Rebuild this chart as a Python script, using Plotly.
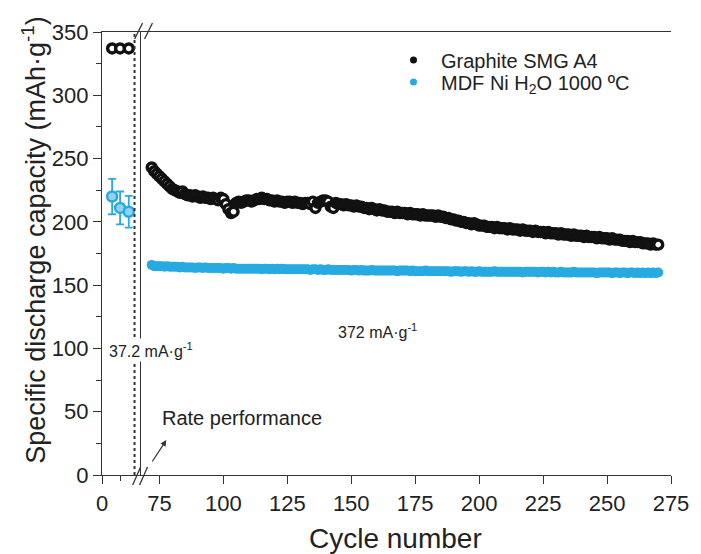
import plotly.graph_objects as go

# ---------------- data ----------------
rate_x = [7, 12.5, 18.5]
rate_graphite = [337, 337, 337]
rate_mdf = [220, 211, 208]
rate_mdf_err = [14, 13, 12.5]

cycles = list(range(72, 271))

graphite = [
    243, 240, 238, 236, 234, 232, 230, 228, 226, 225,
    224, 223, 224, 222, 221, 221, 220, 221, 220, 219,
    220, 219, 219, 218, 219, 218, 217, 219, 218, 214,
    210, 207, 208, 215, 216, 215, 216, 217, 217, 216,
    217, 218, 218, 219, 218, 218, 217, 217, 216, 217,
    216, 216, 215, 216, 216, 215, 216, 215, 215, 214,
    215, 215, 214, 216, 211, 215, 216, 217, 217, 216,
    212, 211, 215, 214, 214, 213, 214, 213, 213, 212,
    213, 212, 212, 211, 211, 210, 211, 210, 209, 210,
    209, 209, 208, 208, 208, 207, 208, 207, 207, 207,
    206, 207, 206, 206, 206, 205, 206, 205, 205, 205,
    205, 204, 205, 204, 204, 203, 203, 202, 202, 201,
    201, 200, 200, 199, 199, 198, 199, 198, 197, 197,
    197, 196, 196, 196, 195, 196, 195, 195, 195, 194,
    195, 194, 194, 194, 193, 194, 193, 193, 193, 192,
    193, 192, 192, 192, 191, 192, 191, 191, 191, 190,
    191, 190, 190, 190, 189, 190, 189, 189, 189, 188,
    189, 188, 188, 188, 187, 188, 187, 187, 187, 186,
    187, 186, 186, 186, 185, 185, 185, 184, 185, 184,
    184, 184, 183, 183, 183, 182, 183, 182, 182,
]

mdf = [
    166, 165, 165, 165, 165, 164.5, 165, 164.5, 164.5, 164.5,
    164.5, 164, 164.5, 164, 164, 164, 164, 163.5, 164, 164,
    163.5, 164, 163.5, 163.5, 163.5, 163.5, 163.5, 163.5, 163, 163.5,
    163.5, 163, 163.5, 163, 163, 163, 163, 163, 163, 163,
    163, 163, 163, 162.5, 163, 163, 162.5, 163, 162.5, 163,
    162.5, 163, 162.5, 162.5, 162.5, 162.5, 162.5, 162.5, 162.5, 162.5,
    162.5, 162.5, 162, 162.5, 162.5, 162, 162.5, 162, 162, 162.5,
    162, 162, 162, 162, 162, 162, 162, 162, 161.5, 162,
    162, 161.5, 162, 161.5, 161.5, 161.5, 162, 161.5, 161.5, 161.5,
    161.5, 161.5, 161.5, 161.5, 161.5, 161.5, 161, 161.5, 161.5, 161.5,
    161.5, 161, 161.5, 161, 161, 161, 161, 161.5, 161, 161,
    161, 161, 161, 161, 161, 161, 161, 160.5, 161, 161,
    161, 160.5, 161, 161, 160.5, 161, 160.5, 160.5, 161, 160.5,
    160.5, 160.5, 160.5, 160.5, 161, 160.5, 160.5, 160.5, 160.5, 160.5,
    160.5, 160.5, 160.5, 160.5, 160.5, 160, 160.5, 160.5, 160.5, 160.5,
    160.5, 160, 160.5, 160.5, 160, 160.5, 160, 160.5, 160, 160,
    160.5, 160, 160, 160, 160, 160.5, 160, 160, 160, 160,
    160, 160, 160, 160, 159.5, 160, 160, 160, 160, 160,
    159.5, 160, 160, 159.5, 160, 160, 159.5, 160, 160, 159.5,
    160, 159.5, 160, 159.5, 160, 159.5, 160, 159.5, 160,
]

y_ticks = [0, 50, 100, 150, 200, 250, 300, 350]
x_ticks_right = [75, 100, 125, 150, 175, 200, 225, 250, 275]

# ---------------- layout geometry ----------------
L, R, T, B = 102, 677, 32, 475
W, H = 701, 554
PW, PH = R - L, B - T
BREAK = 140


def px(xp):
    return (xp - L) / PW


def py(yp):
    return (B - yp) / PH


BLACK = "#111111"
BLUE = "#27aae1"
AX = "#333333"
FONT = "Liberation Sans, Arial, sans-serif"

fig = go.Figure()

marker_black = dict(symbol="circle", size=9, color="white",
                    line=dict(color=BLACK, width=3.4))

fig.add_trace(go.Scatter(
    x=cycles, y=graphite, mode="markers", xaxis="x2", yaxis="y",
    marker=marker_black, showlegend=False))
fig.add_trace(go.Scatter(
    x=cycles, y=mdf, mode="markers", xaxis="x2", yaxis="y",
    marker=dict(symbol="circle", size=10, color=BLUE, line=dict(width=0)),
    showlegend=False))

fig.add_trace(go.Scatter(
    x=rate_x, y=rate_graphite, mode="markers", xaxis="x", yaxis="y",
    marker=marker_black, showlegend=False))
fig.add_trace(go.Scatter(
    x=rate_x, y=rate_mdf, mode="markers", xaxis="x", yaxis="y",
    marker=dict(symbol="circle", size=10, color="#8fd3f0",
                line=dict(color=BLUE, width=2.5)),
    error_y=dict(type="data", array=rate_mdf_err, color=BLUE,
                 thickness=1.8, width=4),
    showlegend=False))

# legend entries (small ball markers as in the reference legend)
fig.add_trace(go.Scatter(
    x=[None], y=[None], mode="markers", xaxis="x2", yaxis="y",
    name="Graphite SMG A4", legend="legend",
    marker=dict(symbol="circle", size=7, color=BLACK)))
fig.add_trace(go.Scatter(
    x=[None], y=[None], mode="markers", xaxis="x2", yaxis="y",
    name="MDF Ni H<sub>2</sub>O 1000 ºC", legend="legend2",
    marker=dict(symbol="circle", size=7, color=BLUE)))

axis_common = dict(showline=True, linecolor=AX, linewidth=1.3, mirror=True,
                   ticks="outside", ticklen=8, tickwidth=1.3, tickcolor=AX,
                   showgrid=False, zeroline=False,
                   tickfont=dict(size=22, color="#222222", family=FONT))

d1 = px(BREAK)
x2_lo = 75 - (160 - BREAK) / ((677 - 160) / 200)

legend_common = dict(xanchor="left", yanchor="middle", itemwidth=45,
                     bgcolor="rgba(0,0,0,0)", font=dict(size=20, family=FONT))

fig.update_layout(
    width=W, height=H,
    margin=dict(l=L, r=W - R, t=T, b=H - B, pad=0),
    paper_bgcolor="white", plot_bgcolor="white",
    font=dict(family=FONT, color="#222222"),
    xaxis=dict(domain=[0, d1], range=[0, 26], tickvals=[0], ticktext=["0"],
               minor=dict(tickvals=[12.5], ticks="outside", ticklen=5,
                          tickcolor=AX, tickwidth=1.3),
               anchor="y", **axis_common),
    xaxis2=dict(domain=[d1, 1], range=[x2_lo, 275], tickvals=x_ticks_right,
                anchor="y", **axis_common),
    yaxis=dict(range=[0, 350], tickvals=y_ticks, anchor="x",
               minor=dict(dtick=25, tick0=0, ticks="outside", ticklen=5,
                          tickcolor=AX, tickwidth=1.3),
               **axis_common),
    legend=dict(x=px(389), y=py(60), **legend_common),
    legend2=dict(x=px(389), y=py(82), **legend_common),
)

# dotted separator line
fig.add_shape(type="line", xref="x", yref="y", x0=22.5, x1=22.5, y0=0, y1=350,
              line=dict(color=AX, width=2, dash="dot"))

# axis break marks
for (x0, y0, x1, y1) in [(133, 485, 141, 467), (140, 485, 148, 467),
                         (135, 39, 143, 23), (145, 39, 153, 23)]:
    fig.add_shape(type="line", xref="paper", yref="paper",
                  x0=px(x0), y0=py(y0), x1=px(x1), y1=py(y1),
                  line=dict(color=AX, width=1.3))

ann_font = dict(family=FONT, color="#222222")
fig.add_annotation(xref="paper", yref="paper", x=px(107), y=py(350),
                   xanchor="left", yanchor="middle", showarrow=False,
                   text="37.2 mA·g<sup>-1</sup>", bgcolor="white",
                   font=dict(size=16, **ann_font))
fig.add_annotation(xref="paper", yref="paper", x=px(338), y=py(331),
                   xanchor="left", yanchor="middle", showarrow=False,
                   text="372 mA·g<sup>-1</sup>",
                   font=dict(size=16, **ann_font))
fig.add_annotation(xref="paper", yref="paper", x=px(161), y=py(418),
                   xanchor="left", yanchor="middle", showarrow=False,
                   text="Rate performance",
                   font=dict(size=20, **ann_font))
fig.add_annotation(xref="paper", yref="paper", x=px(167), y=py(440),
                   ax=-15, ay=23, text="", showarrow=True,
                   arrowhead=2, arrowsize=1, arrowwidth=1.2, arrowcolor=AX)

# axis titles
fig.add_annotation(xref="paper", yref="paper", x=px(399), y=py(538),
                   xanchor="center", yanchor="middle", showarrow=False,
                   text="Cycle number", font=dict(size=28, **ann_font))
fig.add_annotation(xref="paper", yref="paper", x=px(33), y=py(240),
                   xanchor="center", yanchor="middle", showarrow=False,
                   textangle=-90,
                   text="Specific discharge capacity (mAh·g<sup>-1</sup>)",
                   font=dict(size=27, **ann_font))

fig.write_html(
    "out.html",
    config={"displayModeBar": False},
    post_script="document.body.style.margin='0';"
                "document.body.style.padding='0';"
                "document.documentElement.style.overflow='hidden';",
)
